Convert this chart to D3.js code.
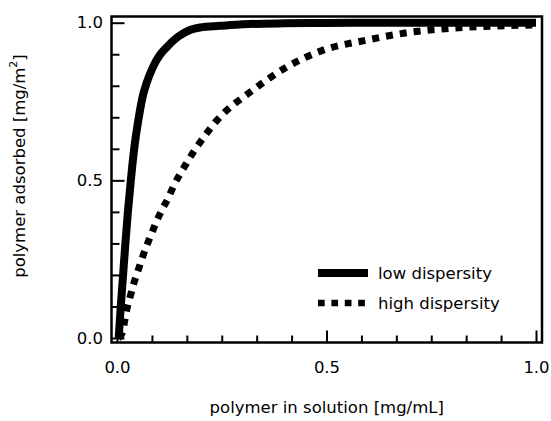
<!DOCTYPE html>
<html>
<head>
<meta charset="utf-8">
<script src="https://cdn.jsdelivr.net/npm/d3@7"></script>
<style>
  html, body { margin: 0; padding: 0; background: #fff; }
  svg { display: block; }
  text { font-family: "DejaVu Sans", sans-serif; fill: #000; }
</style>
</head>
<body>
<svg id="chart" width="551" height="421"></svg>
<script>
// Adsorption isotherms: adsorbed amount vs. polymer concentration in solution
const lowX  = [0.004, 0.009, 0.0145, 0.020, 0.026, 0.033, 0.041, 0.052, 0.062, 0.071, 0.086, 0.101, 0.117, 0.145, 0.174, 0.198, 0.246, 0.300, 0.400, 0.500, 0.700, 1.000];
const lowY  = [0.000, 0.100, 0.200, 0.300, 0.400, 0.500, 0.600, 0.700, 0.770, 0.810, 0.860, 0.895, 0.920, 0.955, 0.977, 0.985, 0.990, 0.995, 0.998, 0.999, 1.000, 1.000];

const highX = [0.004, 0.012, 0.018, 0.024, 0.032, 0.040, 0.050, 0.060, 0.070, 0.082, 0.094, 0.107, 0.122, 0.135, 0.150, 0.165, 0.183, 0.198, 0.239, 0.325, 0.406, 0.492, 0.597, 0.659, 0.747, 1.000];
const highY = [0.000, 0.015, 0.052, 0.094, 0.134, 0.173, 0.213, 0.253, 0.290, 0.329, 0.369, 0.406, 0.443, 0.482, 0.519, 0.552, 0.591, 0.620, 0.691, 0.787, 0.860, 0.913, 0.945, 0.961, 0.977, 0.993];

const seriesNames = ["low dispersity", "high dispersity"];
const xMajorTicks = [0, 0.5, 1.0];
const yMajorTicks = [0, 0.5, 1.0];
const xTickLabels = ["0.0", "0.5", "1.0"];
const yTickLabels = ["0.0", "0.5", "1.0"];
const xTitle = "polymer in solution [mg/mL]";

const svg = d3.select("#chart");

// Frame edges and data scales
const frame = { left: 111.5, right: 542, top: 16.5, bottom: 342.5 };
const x = d3.scaleLinear().domain([0, 1]).range([117, 536]);
const y = d3.scaleLinear().domain([0, 1]).range([338, 22.7]);

// Minor tick positions
const xMinor = d3.range(1, 12).map(i => i / 12).filter(v => Math.abs(v - 0.5) > 1e-9);
const yMinor = d3.range(1, 10).map(i => i / 10).filter(v => Math.abs(v - 0.5) > 1e-9);

function styleAxis(g) {
  g.select(".domain").remove();
  g.selectAll(".tick line").attr("stroke", "#000").attr("stroke-width", 2);
  g.selectAll(".tick text").style("font-size", "16.5px").style("font-family", "DejaVu Sans");
}

// Bottom axis: major + minor ticks pointing inward
svg.append("g")
  .attr("transform", `translate(0,${frame.bottom})`)
  .call(d3.axisBottom(x).tickValues(xMinor).tickSize(-7).tickFormat(""))
  .call(styleAxis);
svg.append("g")
  .attr("transform", `translate(0,${frame.bottom})`)
  .call(d3.axisBottom(x).tickValues(xMajorTicks).tickSize(-12).tickPadding(18.5)
        .tickFormat((d, i) => xTickLabels[i]))
  .call(styleAxis);

// Left axis: major + minor ticks pointing inward
svg.append("g")
  .attr("transform", `translate(${frame.left},0)`)
  .call(d3.axisLeft(y).tickValues(yMinor).tickSize(-8).tickFormat(""))
  .call(styleAxis);
svg.append("g")
  .attr("transform", `translate(${frame.left},0)`)
  .call(d3.axisLeft(y).tickValues(yMajorTicks).tickSize(-13).tickPadding(8.5)
        .tickFormat((d, i) => yTickLabels[i]))
  .call(styleAxis);

// Curves
const line = d3.line().x(d => x(d[0])).y(d => y(d[1])).curve(d3.curveMonotoneX);
const lowData = lowX.map((v, i) => [v, lowY[i]]);
const highData = highX.map((v, i) => [v, highY[i]]);

svg.append("path")
  .datum(lowData)
  .attr("d", line)
  .attr("fill", "none")
  .attr("stroke", "#000")
  .attr("stroke-width", 8);

svg.append("path")
  .datum(highData)
  .attr("d", line)
  .attr("fill", "none")
  .attr("stroke", "#000")
  .attr("stroke-width", 7)
  .attr("stroke-dasharray", "7,7");

// Plot frame
svg.append("rect")
  .attr("x", frame.left)
  .attr("y", frame.top)
  .attr("width", frame.right - frame.left)
  .attr("height", frame.bottom - frame.top)
  .attr("fill", "none")
  .attr("stroke", "#000")
  .attr("stroke-width", 2.5);

// Legend
const legend = svg.append("g").attr("transform", "translate(318,273)");
const legendStyles = [
  { width: 8, dash: null },
  { width: 6.7, dash: "6.7,6.7" }
];
seriesNames.forEach((name, i) => {
  const row = legend.append("g").attr("transform", `translate(0,${i * 30})`);
  row.append("line")
    .attr("x1", 0).attr("x2", 50).attr("y1", 0).attr("y2", 0)
    .attr("stroke", "#000")
    .attr("stroke-width", legendStyles[i].width)
    .attr("stroke-dasharray", legendStyles[i].dash);
  row.append("text")
    .attr("x", 60).attr("y", 6)
    .style("font-size", "16.5px")
    .text(name);
});

// Axis titles
svg.append("text")
  .attr("x", (frame.left + frame.right) / 2)
  .attr("y", 413)
  .attr("text-anchor", "middle")
  .style("font-size", "16.5px")
  .text(xTitle);

const yTitle = svg.append("text")
  .attr("transform", "translate(25,166) rotate(-90)")
  .attr("text-anchor", "middle")
  .style("font-size", "16.5px");
yTitle.append("tspan").text("polymer adsorbed [mg/m");
yTitle.append("tspan").attr("dy", -8).style("font-size", "11px").text("2");
yTitle.append("tspan").attr("dy", 8).text("]");
</script>
</body>
</html>
